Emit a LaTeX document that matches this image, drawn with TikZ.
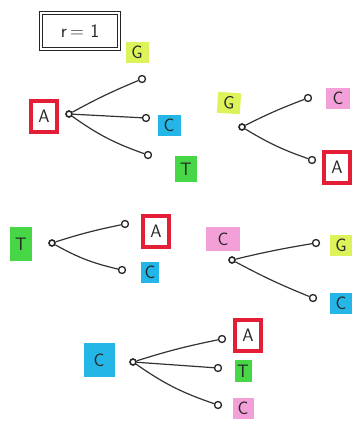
\documentclass[tikz,border=0pt]{standalone}
\usepackage{fontspec}
\begin{document}
\begin{tikzpicture}[x=1pt,y=-1pt,
  rootpt/.style={circle, draw=black!85, line width=1.6pt, inner sep=0pt, minimum size=6pt},
  leafpt/.style={circle, draw=black!85, line width=1.3pt, inner sep=0pt, minimum size=7pt},
  edge/.style={draw=black!80, line width=1.2pt},
  lab/.style={font=\sffamily\fontsize{18}{18}\selectfont, text=black!85, inner sep=0pt},
  ylab/.style={lab, fill=ylw, minimum width=23pt, minimum height=21pt},
  clab/.style={lab, fill=cyn, minimum width=23pt, minimum height=21pt},
  glab/.style={lab, fill=grn, minimum width=22pt, minimum height=26pt},
  plab/.style={lab, fill=pnk, minimum width=24pt, minimum height=21pt},
  rlab/.style={lab, fill=white, draw=red1, line width=4pt, minimum width=26pt, minimum height=31pt},
]
\definecolor{ylw}{RGB}{222,242,90}
\definecolor{cyn}{RGB}{35,182,230}
\definecolor{grn}{RGB}{70,214,70}
\definecolor{pnk}{RGB}{242,160,215}
\definecolor{red1}{RGB}{228,30,55}
\useasboundingbox (0,0) rectangle (352,421);

% title
\node[draw=black!85, line width=1.6pt, double, double distance=1.6pt, minimum width=78pt, minimum height=36pt,
  font=\sffamily\fontsize{19}{19}\selectfont, text=black!85] (title) at (80,31) {r\,=\,\,1};

% tree 1
\node[rlab] (a1) at (44,116) {A};
\node[rootpt] (r1) at (69,114) {};
\node[leafpt] (l11) at (142,79) {};
\node[leafpt] (l12) at (146,118) {};
\node[leafpt] (l13) at (148,155) {};
\node[ylab] (g1) at (137,52) {G};
\node[clab] (c1) at (169,125) {C};
\node[glab] (t1) at (186,169) {T};
\draw[edge] (r1) to[bend left=3] (l11);
\draw[edge] (r1) -- (l12);
\draw[edge] (r1) to[bend right=8] (l13);

% tree 2
\node[ylab, rotate=-4] (g2) at (229,103) {G};
\node[rootpt] (r2) at (242,127) {};
\node[leafpt] (l21) at (308,98) {};
\node[leafpt] (l22) at (312,160) {};
\node[plab] (c2) at (338,98) {C};
\node[rlab] (a2) at (337,167) {A};
\draw[edge] (r2) to[bend left=3] (l21);
\draw[edge] (r2) to[bend right=6] (l22);

% tree 3
\node[glab, minimum height=34pt] (t3) at (21,244) {T};
\node[rootpt] (r3) at (52,243) {};
\node[leafpt] (l31) at (125,224) {};
\node[leafpt] (l32) at (122,270) {};
\node[rlab] (a3) at (156,231) {A};
\node[clab, minimum width=18pt] (c3) at (150,272) {C};
\draw[edge] (r3) to[bend left=3] (l31);
\draw[edge] (r3) to[bend right=8] (l32);

% tree 4
\node[plab, minimum width=34pt, minimum height=24pt] (c4) at (223,239) {C};
\node[rootpt] (r4) at (232,260) {};
\node[leafpt] (l41) at (316,243) {};
\node[leafpt] (l42) at (313,298) {};
\node[ylab] (g4) at (341,245) {G};
\node[clab] (c4b) at (341,303) {C};
\draw[edge] (r4) to[bend left=2] (l41);
\draw[edge] (r4) to[bend right=3] (l42);

% tree 5
\node[clab, minimum width=31pt, minimum height=34pt] (c5) at (99,360) {C};
\node[rootpt] (r5) at (133,362) {};
\node[leafpt] (l51) at (222,339) {};
\node[leafpt] (l52) at (218,368) {};
\node[leafpt] (l53) at (218,405) {};
\node[rlab] (a5) at (248,335) {A};
\node[glab, minimum width=17pt, minimum height=22pt] (t5) at (243,371) {T};
\node[plab, minimum width=21pt] (c5b) at (243,408) {C};
\draw[edge] (r5) to[bend left=3] (l51);
\draw[edge] (r5) -- (l52);
\draw[edge] (r5) to[bend right=8] (l53);
\end{tikzpicture}
\end{document}
